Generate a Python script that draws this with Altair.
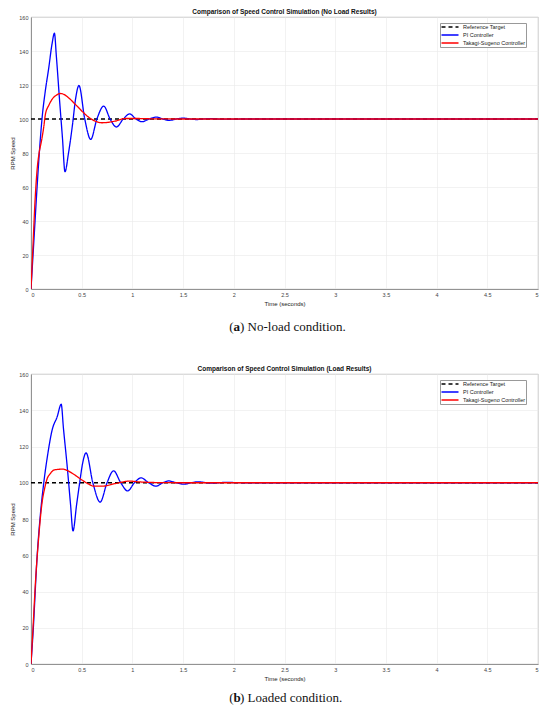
import altair as alt
import pandas as pd

SERIES = ["Reference Target", "PI Controller", "Takagi-Sugeno Controller"]
COLORS = ["#000000", "#0000ff", "#ff0000"]
DASHES = [[4, 3], [1, 0], [1, 0]]

TIME_TICKS = [0, 0.5, 1, 1.5, 2, 2.5, 3, 3.5, 4, 4.5, 5]
RPM_TICKS = [0, 20, 40, 60, 80, 100, 120, 140, 160]

TITLE_A = "Comparison of Speed Control Simulation (No Load Results)"
TITLE_B = "Comparison of Speed Control Simulation (Load Results)"
CAPTION_A = ("a", "No-load condition.")
CAPTION_B = ("b", "Loaded condition.")

# ---------- panel (a): no load ----------
ref_t_a = [0, 5]
ref_v_a = [100, 100]
pi_t_a = [0, 0.03, 0.06, 0.093, 0.11, 0.14, 0.175, 0.207, 0.231, 0.25, 0.283, 0.31,
          0.335, 0.37, 0.41, 0.44, 0.473, 0.53, 0.589, 0.65, 0.717, 0.78, 0.842, 0.91,
          0.973, 1.035, 1.095, 1.165, 1.237, 1.3, 1.365, 1.43, 1.5, 1.57, 1.63, 1.75,
          1.9, 2.1, 5]
pi_v_a = [0, 30, 60, 89, 101, 116, 130, 144, 150.5, 137, 110, 89,
          69, 80, 97, 112, 119.7, 100, 88, 100, 107.6, 100, 95.3, 100,
          103, 100, 98.4, 100, 101.1, 100, 99.2, 100, 100.5, 100, 99.7, 100.2,
          99.9, 100, 100]
ts_t_a = [0, 0.017, 0.04, 0.06, 0.08, 0.103, 0.125, 0.142, 0.175, 0.207, 0.25, 0.29,
          0.33, 0.372, 0.454, 0.536, 0.586, 0.64, 0.70, 0.832, 0.93, 1.03, 1.2, 1.5, 5]
ts_v_a = [0, 22, 52, 70, 80, 87, 95, 102.7, 108, 111.5, 114, 115,
          114.3, 112.4, 107.6, 102.7, 100.3, 98.6, 97.8, 98.8, 100.3, 100.3, 100.1, 100, 100]

# ---------- panel (b): loaded ----------
ref_t_b = [0, 5]
ref_v_b = [100, 100]
pi_t_b = [0, 0.02, 0.06, 0.095, 0.126, 0.166, 0.208, 0.258, 0.298, 0.32, 0.357, 0.39,
          0.414, 0.45, 0.48, 0.51, 0.543, 0.61, 0.682, 0.75, 0.814, 0.885, 0.953, 1.02,
          1.085, 1.16, 1.234, 1.3, 1.36, 1.43, 1.51, 1.58, 1.64, 1.78, 1.92, 2.1, 5]
pi_v_b = [0, 17, 59, 84, 100, 116, 129, 136.4, 143.3, 130, 109, 88,
          73.4, 88, 100, 111, 116.5, 100, 89.3, 100, 106.6, 100, 95.5, 100,
          102.7, 100, 98.1, 100, 101, 100, 99.2, 100, 100.5, 99.8, 100.2, 100, 100]
ts_t_b = [0, 0.02, 0.045, 0.076, 0.109, 0.135, 0.159, 0.19, 0.225, 0.27, 0.31, 0.36,
          0.41, 0.506, 0.56, 0.622, 0.70, 0.837, 0.97, 1.06, 1.25, 1.5, 5]
ts_v_b = [0, 20, 46, 70, 89, 97, 102.2, 105, 107, 107.4, 107.5, 106.7,
          105.1, 101.4, 99.5, 98.1, 98.1, 99.6, 100.9, 100.5, 100.1, 100, 100]

FONT = "Liberation Sans"
SERIF = "Liberation Serif"
LINE_SYMBOL = "M-3.4,0L3.4,0"


def frame(ref_t, ref_v, pi_t, pi_v, ts_t, ts_v):
    parts = []
    for name, ts, vs in [(SERIES[0], ref_t, ref_v), (SERIES[1], pi_t, pi_v), (SERIES[2], ts_t, ts_v)]:
        parts.append(pd.DataFrame({"t": ts, "v": vs, "series": name}))
    return pd.concat(parts, ignore_index=True)


def panel(df, title, w, h):
    legend = alt.Legend(
        title=None, orient="none", legendX=409, legendY=6, symbolType=LINE_SYMBOL,
        symbolSize=25, symbolStrokeWidth=1.3, symbolOffset=6, labelFont=FONT, labelFontSize=5.5,
        labelColor="#222", rowPadding=1, padding=0.5, labelOffset=9.5,
        strokeColor="#999", fillColor="white", cornerRadius=0,
    )
    return alt.Chart(df).mark_line(strokeWidth=1.3, interpolate="monotone", clip=True).encode(
        x=alt.X("t:Q", scale=alt.Scale(domain=[0, 5], nice=False),
                axis=alt.Axis(values=TIME_TICKS, title="Time (seconds)", format="~g")),
        y=alt.Y("v:Q", scale=alt.Scale(domain=[0, 160], nice=False),
                axis=alt.Axis(values=RPM_TICKS, title="RPM Speed")),
        color=alt.Color("series:N", scale=alt.Scale(domain=SERIES, range=COLORS), legend=legend),
        strokeDash=alt.StrokeDash("series:N", scale=alt.Scale(domain=SERIES, range=DASHES), legend=legend),
    ).properties(
        width=w, height=h,
        title=alt.TitleParams(title, font=FONT, fontSize=6.5, fontWeight="bold", color="#111", offset=-0.5),
    )


def caption(letter, rest, h, cy):
    cx = 254.5
    cap = pd.DataFrame({"open": ["("], "letter": [letter], "rest": [") " + rest]})
    base = alt.Chart(cap)
    t1 = base.mark_text(font=SERIF, fontSize=13, align="right", baseline="middle", color="#111").encode(
        text="open:N", x=alt.value(cx - 52), y=alt.value(cy))
    t2 = base.mark_text(font=SERIF, fontSize=13, fontWeight="bold", align="left", baseline="middle", color="#111").encode(
        text="letter:N", x=alt.value(cx - 52), y=alt.value(cy))
    t3 = base.mark_text(font=SERIF, fontSize=13, align="left", baseline="middle", color="#111").encode(
        text="rest:N", x=alt.value(cx - 45.5), y=alt.value(cy))
    return alt.layer(t1, t2, t3).properties(width=500, height=h, view=alt.ViewConfig(stroke="transparent"))


df_a = frame(ref_t_a, ref_v_a, pi_t_a, pi_v_a, ts_t_a, ts_v_a)
df_b = frame(ref_t_b, ref_v_b, pi_t_b, pi_v_b, ts_t_b, ts_v_b)

p1 = panel(df_a, TITLE_A, 507, 272)
c1 = caption(*CAPTION_A, h=56, cy=19)
p2 = panel(df_b, TITLE_B, 507, 290)
c2 = caption(*CAPTION_B, h=21, cy=15)

chart = alt.vconcat(p1, c1, p2, c2, spacing=0).resolve_scale(
    color="independent", strokeDash="independent"
).resolve_legend(
    color="independent", strokeDash="independent"
).properties(
    padding={"left": 1, "top": 0, "right": 0, "bottom": 0}
).configure_view(
    stroke="#a6a6a6", strokeWidth=0.8
).configure_axis(
    labelFont=FONT, labelFontSize=5.5, labelColor="#444",
    titleFont=FONT, titleFontSize=6, titleColor="#222", titleFontWeight="normal",
    gridColor="#e9e9e9", gridWidth=0.6, domainColor="#808080", domainWidth=0.8,
    ticks=False, tickSize=0, labelPadding=3, titlePadding=3,
)

chart.save("out.html", embed_options={"renderer": "svg", "actions": False})
